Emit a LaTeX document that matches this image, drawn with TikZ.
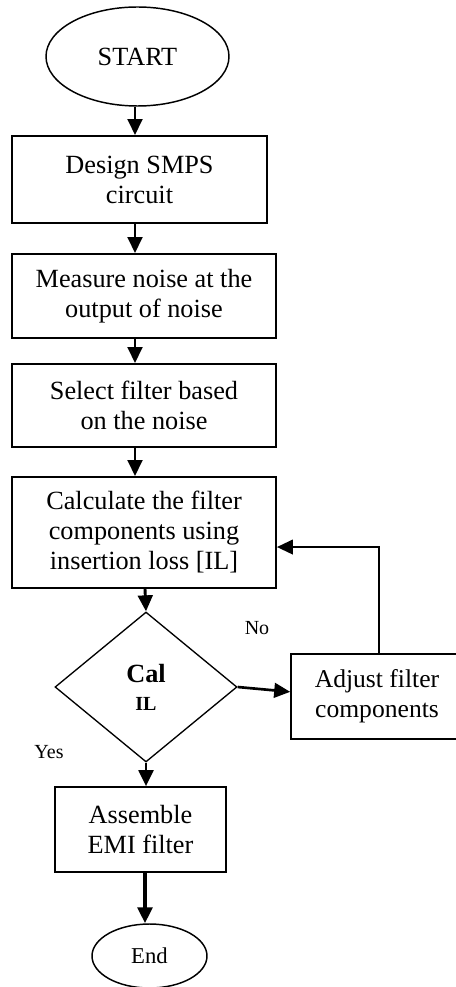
\documentclass[tikz,border=0pt]{standalone}
\usepackage{fontspec}
\setmainfont{Liberation Serif}
\usetikzlibrary{shapes.geometric,arrows.meta}
\begin{document}
\begin{tikzpicture}[x=0.75pt,y=-0.75pt,
  box/.style={draw,line width=1.4pt,rectangle,align=center,inner sep=0pt,font=\fontsize{19.7}{22.5}\selectfont},
  term/.style={draw,line width=1.1pt,ellipse,inner sep=0pt,align=center},
  arr/.style={line width=2.2pt,-{Triangle[length=12pt,width=11pt]}},
  lbl/.style={font=\fontsize{15}{18}\selectfont}]
\useasboundingbox (0,0) rectangle (455,987);
\coordinate (ax) at (135,0);
\coordinate (cx) at (145,0);
\node[term,minimum width=137.25pt,minimum height=74.25pt,font=\fontsize{19.7}{22.5}\selectfont] (start) at (137.5,56.5) {START};
\node[box,minimum width=191.25pt,minimum height=65.25pt] (b1) at (139.5,179.5) {Design SMPS\\circuit};
\node[box,minimum width=198pt,minimum height=63pt] (b2) at (144,296) {Measure noise at the\\output of noise};
\node[box,minimum width=198pt,minimum height=62.25pt] (b3) at (144,405.5) {Select filter based\\on the noise};
\node[box,minimum width=198pt,minimum height=83.25pt] (b4) at (144,532.5) {Calculate the filter\\components using\\insertion loss [IL]};
\node[draw,line width=1pt,diamond,inner sep=0pt,minimum width=136.5pt,minimum height=112.5pt,align=center,font=\fontsize{19.7}{21}\selectfont\bfseries] (dia) at (146,687) {Cal\\{\fontsize{15}{18}\selectfont IL}};
\node[box,line width=1.2pt,minimum width=129pt,minimum height=63.75pt,font=\fontsize{19.2}{22.5}\selectfont] (adj) at (377,696.5) {Adjust filter\\components};
\node[box,line width=1.2pt,minimum width=128.25pt,minimum height=63.75pt] (b5) at (140.5,829.5) {Assemble\\EMI filter};
\node[term,minimum width=86.25pt,minimum height=48pt,font=\fontsize{17}{20}\selectfont] (end) at (149.5,956) {End};
\node[lbl] (no) at (257,628) {No};
\node[lbl] (yes) at (49,752) {Yes};
\draw[arr] (start.south -| ax) -- (b1.north -| ax);
\draw[arr] (b1.south -| ax) -- (b2.north -| ax);
\draw[arr] (b2.south -| ax) -- (b3.north -| ax);
\draw[arr] (b3.south -| ax) -- (b4.north -| ax);
\draw[arr] (b4.south -| cx) -- (dia.north);
\draw[arr] (dia.south) -- (dia.south |- b5.north);
\draw[arr,line width=3pt] (b5.south -| cx) -- (end.north -| cx);
\draw[arr,line width=2pt] (dia.east) -- ([yshift=3.5pt]adj.west);
\draw[arr,line width=1.5pt] ([xshift=1.5pt]adj.north) |- ([yshift=-10.9pt]b4.east);
\end{tikzpicture}
\end{document}
